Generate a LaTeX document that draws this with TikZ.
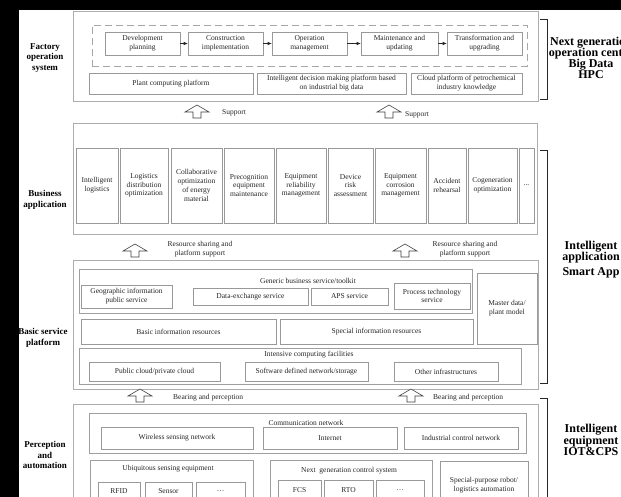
\documentclass[tikz,border=0pt]{standalone}
\usepackage{fontspec}
\setmainfont{Liberation Serif}
\usetikzlibrary{arrows.meta}
% box given by its corners (x1,y1)-(x2,y2), in points, y pointing down
\newcommand{\placebox}[7][]{%
  \node[box,#1,minimum width={(#5-#3)*1pt},minimum height={(#6-#4)*1pt}]
    (#2) at ({(#3+#5)/2},{(#4+#6)/2}) {#7};}
\begin{document}
\begin{tikzpicture}[x=1pt,y=-1pt,
  box/.style={draw=gray!80, line width=0.55pt, align=center, inner sep=0pt,
    font=\fontsize{7.5}{8.8}\selectfont, text=black!85},
  outer/.style={draw=gray!65, line width=0.6pt},
  group/.style={draw=gray!75, line width=0.55pt},
  dashbox/.style={draw=gray!70, dash pattern=on 7pt off 4pt, line width=0.6pt},
  title/.style={font=\fontsize{7.5}{8.8}\selectfont, text=black!85, inner sep=0pt},
  sidelabel/.style={align=center, font=\fontsize{9}{10.8}\selectfont\bfseries, inner sep=0pt},
  layerlabel/.style={align=center, font=\fontsize{12}{11.2}\selectfont\bfseries, inner sep=0pt},
  flow/.style={-{Latex[length=4pt,width=3.6pt]}, line width=0.6pt, black!85},
  bracket/.style={line width=0.7pt, black!85},
  hollowup/.pic={\draw[line width=0.6pt, draw=black!75, fill=white]
    (-4,0) -- (-4,-6) -- (-12,-6) -- (0,-13) -- (12,-6) -- (4,-6) -- (4,0) -- cycle;}
]
\useasboundingbox (0,0) rectangle (621,497);
\fill[white] (0,0) rectangle (621,497);
\fill[black] (0,0) rectangle (19,497);
\fill[black] (0,0) rectangle (621,10);

% ---------- factory operation system ----------
\placebox[outer]{fos}{73}{11}{538}{101}{}
\placebox[dashbox]{life}{92}{25}{527}{66}{}
\placebox{p1}{105}{32}{180}{55}{Development\\planning}
\placebox{p2}{188}{32}{263}{55}{Construction\\implementation}
\placebox{p3}{272}{32}{347}{55}{Operation\\management}
\placebox{p4}{361}{32}{438}{55}{Maintenance and\\updating}
\placebox{p5}{447}{32}{522}{55}{Transformation and\\upgrading}
\draw[flow] (p1) -- (p2);
\draw[flow] (p2) -- (p3);
\draw[flow] (p3) -- (p4);
\draw[flow] (p4) -- (p5);
\placebox{q1}{89}{73}{253}{94}{Plant computing platform}
\placebox{q2}{257}{73}{406}{94}{Intelligent decision making platform based\\on industrial big data}
\placebox{q3}{411}{73}{522}{94}{Cloud platform of petrochemical\\industry knowledge}
\node[sidelabel] (l1) at (45,58) {Factory\\operation\\system};
\coordinate (b1t) at (540,19);
\coordinate (b1b) at (540,99);
\draw[bracket] (b1t) -- ++(7,0) |- (b1b);
\node[layerlabel] (r1) at (591,58) {Next generation\\operation center\\Big Data\\HPC};

\pic at (197,118) {hollowup};
\node[title, anchor=west] (s1) at (222,113) {Support};
\pic at (389,118) {hollowup};
\node[title, anchor=west] (s2) at (405,115) {Support};

% ---------- business application ----------
\placebox[outer]{ba}{73}{123}{537}{234}{}
\placebox{a1}{76}{148}{118}{223}{Intelligent\\logistics}
\placebox{a2}{120}{148}{168}{223}{Logistics\\distribution\\optimization}
\placebox{a3}{171}{148}{222}{223}{Collaborative\\optimization\\of energy\\material}
\placebox{a4}{224}{148}{274}{223}{Precognition\\equipment\\maintenance}
\placebox{a5}{276}{148}{326}{223}{Equipment\\reliability\\management}
\placebox{a6}{328}{148}{373}{223}{Device\\risk\\assessment}
\placebox{a7}{375}{148}{426}{223}{Equipment\\corrosion\\management}
\placebox{a8}{428}{148}{466}{223}{Accident\\rehearsal}
\placebox{a9}{468}{148}{517}{223}{Cogeneration\\optimization}
\placebox{a10}{519}{148}{534}{223}{...}
\node[sidelabel] (l2) at (45,200) {Business\\application};

\pic at (135,257) {hollowup};
\node[title, align=center] (rs1) at (200,249) {Resource sharing and\\platform support};
\pic at (405,257) {hollowup};
\node[title, align=center] (rs2) at (465,249) {Resource sharing and\\platform support};

\coordinate (b2t) at (540,150);
\coordinate (b2b) at (540,383);
\draw[bracket] (b2t) -- ++(7,0) |- (b2b);
\node[layerlabel] (r2) at (591,252) {Intelligent\\application};
\node[layerlabel] (r2b) at (591,273) {Smart App};

% ---------- basic service platform ----------
\placebox[outer]{bsp}{73}{260}{538}{389}{}
\placebox[group]{gen}{79}{269}{472}{313}{}
\node[title] (gent) at (308,281) {Generic business service/toolkit};
\placebox{geo}{81}{285}{172}{308}{Geographic information\\public service}
\placebox{dx}{193}{288}{308}{305}{Data-exchange service}
\placebox{aps}{311}{288}{388}{305}{APS service}
\placebox{pts}{394}{283}{470}{309}{Process technology\\service}
\placebox{md}{477}{273}{537}{344}{Master data/\\plant model}
\placebox{bir}{81}{319}{276}{344}{Basic information resources}
\placebox{sir}{280}{319}{473}{344}{Special information resources}
\placebox[group]{icf}{79}{348}{521}{384}{}
\node[title] (icft) at (309,355) {Intensive computing facilities};
\placebox{pc}{89}{362}{220}{381}{Public cloud/private cloud}
\placebox{sdn}{245}{362}{368}{381}{Software defined network/storage}
\placebox{oi}{394}{362}{498}{381}{Other infrastructures}
\node[sidelabel] (l3) at (43,338) {Basic service\\platform};

\pic at (140,402) {hollowup};
\node[title, anchor=west] (bp1) at (173,398) {Bearing and perception};
\pic at (411,402) {hollowup};
\node[title, anchor=west] (bp2) at (433,398) {Bearing and perception};

% ---------- perception and automation ----------
\placebox[outer]{pa}{73}{404}{538}{520}{}
\placebox[group]{cn}{89}{413}{526}{453}{}
\node[title] (cnt) at (306,423) {Communication network};
\placebox{wsn}{101}{427}{253}{449}{Wireless sensing network}
\placebox{inet}{263}{427}{397}{449}{Internet}
\placebox{icn}{404}{427}{518}{449}{Industrial control network}
\placebox[group]{use}{90}{460}{253}{520}{}
\node[title] (uset) at (168,469) {Ubiquitous sensing equipment};
\placebox{rfid}{98}{482}{140}{500}{RFID}
\placebox{sen}{145}{482}{192}{500}{Sensor}
\placebox{d1}{196}{482}{245}{500}{\raisebox{-2pt}{\dots}}
\placebox[group]{ngc}{270}{460}{432}{520}{}
\node[title] (ngct) at (349,471) {Next\ \ generation control system};
\placebox{fcs}{278}{480}{321}{500}{FCS}
\placebox{rto}{324}{480}{373}{500}{RTO}
\placebox{d2}{376}{480}{424}{500}{\raisebox{-2pt}{\dots}}
\placebox{spr}{440}{461}{528}{510}{Special-purpose robot/\\logistics automation}
\node[sidelabel] (l4) at (45,455) {Perception\\and\\automation};
\coordinate (b4t) at (540,398);
\coordinate (b4b) at (547,520);
\draw[bracket] (b4t) -- ++(7,0) -- (b4b);
\node[layerlabel] (r4) at (591,440) {Intelligent\\equipment\\IOT\&CPS};
\end{tikzpicture}
\end{document}
